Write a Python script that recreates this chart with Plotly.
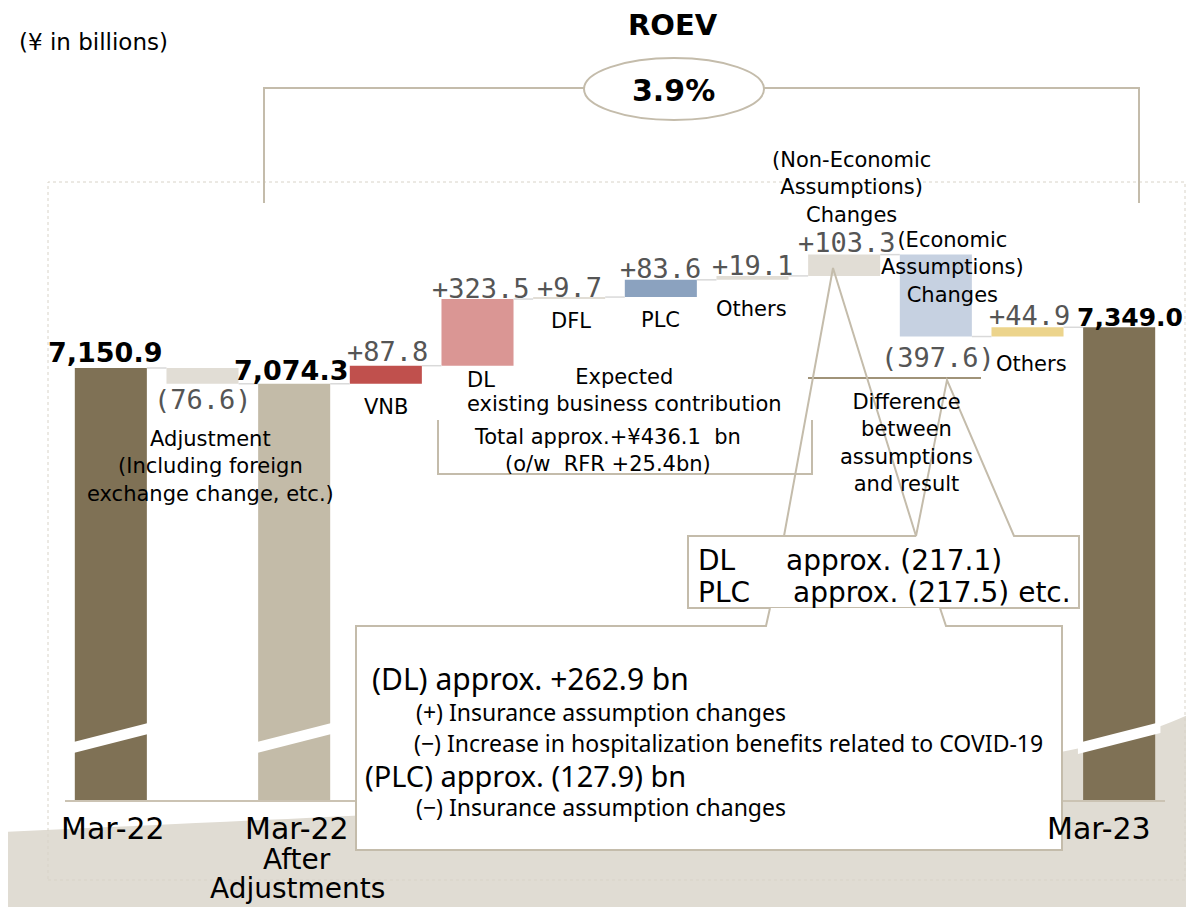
import plotly.graph_objects as go

# ---- data (¥ in billions) ----
categories = ["Mar-22", "Adjustment", "Mar-22 After Adjustments", "VNB", "DL", "DFL", "PLC",
              "Others", "Non-Economic Assumptions Changes", "Economic Assumptions Changes",
              "Others", "Mar-23"]
values = [7150.9, -76.6, 7074.3, 87.8, 323.5, 9.7, 83.6, 19.1, 103.3, -397.6, 44.9, 7349.0]
is_total = [True, False, True, False, False, False, False, False, False, False, False, True]
value_labels = ["7,150.9", "(76.6)", "7,074.3", "+87.8", "+323.5", "+9.7", "+83.6", "+19.1",
                "+103.3", "(397.6)", "+44.9", "7,349.0"]
bar_names = ["", "", "", "VNB", "DL", "DFL", "PLC", "Others", "", "", "Others", ""]
roev = "3.9%"

colors = ["#7f7155", "#e1ddd5", "#c3bba8", "#c0504d", "#da9694", "#e1ddd5", "#8ba2bf",
          "#e1ddd5", "#e1ddd5", "#c6d1e1", "#ecd48c", "#7f7155"]

# running totals -> bar bases
bases, heights, lows, highs = [], [], [], []
running = 0.0
for v, tot in zip(values, is_total):
    if tot:
        bases.append(0.0)
        heights.append(v)
        running = v
        lows.append(v)
        highs.append(v)
    else:
        bases.append(running)
        heights.append(v)
        lows.append(min(running, running + v))
        highs.append(max(running, running + v))
        running += v

levels_after = [b + h for b, h in zip(bases, heights)]
x = list(range(len(categories)))
BW = 0.786

# page sits 8px in from the window corner; plot area spans page x 65..1165, y 100..800
def px(xp):
    return (xp - 65) / 1100


def py(yp):
    return (800 - yp) / 700


def path(points, close=False):
    s = "M" + " L".join(f"{px(a):.5f},{py(b):.5f}" for a, b in points)
    return s + (" Z" if close else "")


fig = go.Figure()

fig.add_trace(go.Bar(
    x=x, y=heights, base=bases, width=BW,
    marker=dict(color=colors, line=dict(width=0)),
    hoverinfo="skip",
))

# connectors between bars
cx, cy = [], []
for i in range(len(x) - 1):
    cx += [i + BW / 2, i + 1 - BW / 2, None]
    cy += [levels_after[i], levels_after[i], None]
fig.add_trace(go.Scatter(x=cx, y=cy, mode="lines", line=dict(color="#d9d9d9", width=1.5),
                         hoverinfo="skip"))

shapes = []
LC = "#c4bcab"

# beige swoosh in the background
shapes.append(dict(type="path", xref="paper", yref="paper", layer="below",
                   path=f"M{px(0)},{py(832)} C{px(600)},{py(805)} {px(1050)},{py(785)} {px(1194)},{py(712)} "
                        f"L{px(1194)},{py(910)} L{px(0)},{py(910)} Z",
                   fillcolor="#e0dcd3", line=dict(width=0)))
# faint dotted frame
shapes.append(dict(type="rect", xref="paper", yref="paper", layer="below",
                   x0=px(48), x1=px(1185), y0=py(880), y1=py(182),
                   line=dict(color="#d8d3c8", width=1, dash="dot")))

# ROEV bracket + ellipse
shapes.append(dict(type="path", xref="paper", yref="paper",
                   path=path([(264, 203), (264, 88), (584, 88)]), line=dict(color=LC, width=2)))
shapes.append(dict(type="path", xref="paper", yref="paper",
                   path=path([(764, 88), (1139, 88), (1139, 203)]), line=dict(color=LC, width=2)))
shapes.append(dict(type="circle", xref="paper", yref="paper",
                   x0=px(584), x1=px(764), y0=py(120), y1=py(58),
                   fillcolor="white", line=dict(color=LC, width=2)))

# expected existing business bracket
shapes.append(dict(type="path", xref="paper", yref="paper",
                   path=path([(438, 420), (438, 474), (812, 474), (812, 420)]),
                   line=dict(color=LC, width=2)))
# difference line
shapes.append(dict(type="path", xref="paper", yref="paper",
                   path=path([(808, 378), (981, 378)]), line=dict(color="#a09379", width=2)))

# callouts
shapes.append(dict(type="path", xref="paper", yref="paper",
                   path=path([(784, 536), (833, 268), (916, 536)]), line=dict(color=LC, width=2)))
shapes.append(dict(type="path", xref="paper", yref="paper",
                   path=path([(916, 536), (688, 536), (688, 608), (1079, 608), (1079, 536),
                              (1014, 536), (947, 380), (916, 536)]),
                   line=dict(color=LC, width=2)))
shapes.append(dict(type="path", xref="paper", yref="paper",
                   path=path([(940, 608), (946, 626), (1062, 626), (1062, 850), (356, 850),
                              (356, 626), (766, 626), (770, 608)]),
                   fillcolor="white", line=dict(color=LC, width=2)))

# axis breaks on the total bars
for i, tot in enumerate(is_total):
    if tot:
        shapes.append(dict(type="path", xref="x", yref="paper",
                           path=f"M{i - 0.45},{py(743)} L{i + 0.45},{py(722)} "
                                f"L{i + 0.45},{py(733)} L{i - 0.45},{py(754)} Z",
                           fillcolor="white", line=dict(width=0)))

annotations = []


def note(text, xp, yp, size=21, anchor="center", color="#000000", family="DejaVu Sans"):
    annotations.append(dict(text=text, x=px(xp), y=py(yp), xref="paper", yref="paper",
                            xanchor=anchor, yanchor="middle", showarrow=False, align=anchor,
                            borderpad=0,
                            font=dict(size=size, color=color, family=family)))


# value labels tied to bars
label_dx = [-6, 0, -3, 2, 3, 0, 0, 0, 3, 2, 2, 11]
label_dy = [16, -16, 13, 14, 11, 10, 11, 10, 12, -21, 12, 10]
label_size = [27, 27, 27, 27, 27, 27, 27, 27, 27, 27, 27, 25]
for i, lab in enumerate(value_labels):
    if is_total[i]:
        txt, fam, col = f"<b>{lab}</b>", "DejaVu Sans", "#000000"
    else:
        txt, fam, col = lab, "DejaVu Sans Mono", "#555555"
    yv = highs[i] if label_dy[i] > 0 else lows[i]
    annotations.append(dict(text=txt, x=i, y=yv, xref="x", yref="y", showarrow=False,
                            xanchor="center", yanchor="middle", xshift=label_dx[i], yshift=label_dy[i],
                            font=dict(size=label_size[i], color=col, family=fam)))

name_dx = [0, 0, 0, 0, 3, 2, 0, -1, 0, 0, 4, 0]
name_dy = [0, 0, 0, -23, -14, -22, -23, -29, 0, 0, -27, 0]
for i, nm in enumerate(bar_names):
    if nm:
        annotations.append(dict(text=nm, x=i, y=lows[i], xref="x", yref="y", showarrow=False,
                                xanchor="center", yanchor="middle", xshift=name_dx[i], yshift=name_dy[i],
                                font=dict(size=21, color="#000000", family="DejaVu Sans")))

# category labels
note("Mar-22", 113, 828, size=30)
note("Mar-22", 297, 828, size=30)
note("After", 297, 860, size=28)
note("Adjustments", 297, 888, size=28)
note("Mar-23", 1099, 828, size=30)

# headers
note("(¥ in billions)", 18, 42, size=23, anchor="left")
note("<b>ROEV</b>", 673, 25, size=29)
note(f"<b>{roev}</b>", 673, 90, size=30)

# descriptions
note("Adjustment<br>(Including foreign<br>exchange change, etc.)", 210, 466)
note("Expected<br>existing business contribution", 624, 390)
note("Total approx.+¥436.1\u00a0\u00a0bn<br>(o/w\u00a0\u00a0RFR +25.4bn)", 607, 450)
note("(Non-Economic<br>Assumptions)<br>Changes", 851, 187)
note("(Economic<br>Assumptions)<br>Changes", 952, 267)
note("Difference<br>between<br>assumptions<br>and result", 906, 443)

note("DL", 697, 560, size=28, anchor="left")
note("approx. (217.1)", 785, 560, size=28, anchor="left")
note("PLC", 697, 592, size=28, anchor="left")
note("approx. (217.5) etc.", 792, 592, size=28, anchor="left")

BF = "Noto Sans"
note("(DL) approx. +262.9 bn", 371, 678, size=30, anchor="left", family=BF)
note("(+) Insurance assumption changes", 415, 712, size=23, anchor="left", family=BF)
note("(\u2212) Increase in hospitalization benefits related to COVID-19", 413, 743, size=23, anchor="left", family=BF)
note("(PLC) approx. (127.9) bn", 364, 775, size=29, anchor="left", family=BF)
note("(\u2212) Insurance assumption changes", 415, 807, size=23, anchor="left", family=BF)

fig.update_layout(
    width=1186, height=899,
    margin=dict(l=57, r=29, t=92, b=107),
    paper_bgcolor="white", plot_bgcolor="rgba(0,0,0,0)",
    showlegend=False,
    font=dict(family="DejaVu Sans", color="#000000"),
    xaxis=dict(range=[-0.5, 11.5], showticklabels=False, showgrid=False, zeroline=False,
               showline=True, linecolor="#cbc3b3", linewidth=2, ticks="", fixedrange=True),
    yaxis=dict(range=[5053.8, 8451.9], visible=False, showgrid=False, zeroline=False, fixedrange=True),
    shapes=shapes,
    annotations=annotations,
)

fig.write_html("out.html")
